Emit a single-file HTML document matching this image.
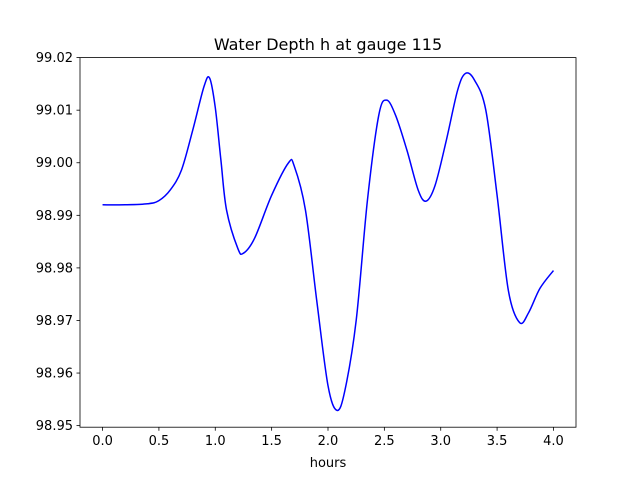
<!DOCTYPE html>
<html><head><meta charset="utf-8"><style>
body{margin:0;background:#fff;font-family:"Liberation Sans","DejaVu Sans",sans-serif}
svg text{font-family:"DejaVu Sans","Liberation Sans",sans-serif}
</style></head><body>
<svg id="chart" width="640" height="480">
<rect x="0" y="0" width="640" height="480" fill="#fff"/>
<g id="plot"></g>
</svg>
<script>
const hours=[0,0.2,0.4,0.5,0.6,0.7,0.8,0.9,0.95,1.0,1.05,1.1,1.2,1.25,1.35,1.5,1.65,1.7,1.8,1.9,2.0,2.08,2.15,2.25,2.35,2.45,2.52,2.6,2.7,2.8,2.87,2.95,3.05,3.15,3.22,3.3,3.4,3.5,3.6,3.7,3.78,3.88,4.0];
const depth=[98.992,98.992,98.9922,98.9928,98.9948,98.9986,99.0062,99.0145,99.0161,99.0105,99.0005,98.991,98.9837,98.9828,98.9857,98.9938,99.0,98.9994,98.991,98.9738,98.9576,98.9529,98.9567,98.970,98.9929,99.009,99.0119,99.009,99.0024,98.9948,98.9927,98.9957,99.0043,99.0138,99.017,99.0157,99.01,98.9938,98.9757,98.9696,98.9715,98.9761,98.9795];
const xTicks=[0,0.5,1.0,1.5,2.0,2.5,3.0,3.5,4.0];
const yTicks=[98.95,98.96,98.97,98.98,98.99,99.00,99.01,99.02];
const L=80,R=576,T=57.6,B=427.2,x0=-0.2,x1=4.2,y0=98.9497,y1=99.0200;
const sx=v=>L+(v-x0)/(x1-x0)*(R-L);
const sy=v=>B-(v-y0)/(y1-y0)*(B-T);
const NS='http://www.w3.org/2000/svg';
const g=document.getElementById('plot');
function mk(t,a,txt){const e=document.createElementNS(NS,t);for(const k in a)e.setAttribute(k,a[k]);if(txt!==undefined)e.textContent=txt;g.appendChild(e);return e;}
const P=hours.map((h,i)=>[sx(h),sy(depth[i])]);
let d='M'+P[0][0]+','+P[0][1];
for(let i=0;i<P.length-1;i++){const p0=P[Math.max(0,i-1)],p1=P[i],p2=P[i+1],p3=P[Math.min(P.length-1,i+2)];
const c1=[p1[0]+(p2[0]-p0[0])/6,p1[1]+(p2[1]-p0[1])/6],c2=[p2[0]-(p3[0]-p1[0])/6,p2[1]-(p3[1]-p1[1])/6];
d+=` C${c1[0]},${c1[1]} ${c2[0]},${c2[1]} ${p2[0]},${p2[1]}`;}
const line=mk('path',{d:d,fill:'none',stroke:'#0000ff','stroke-width':1.5});


const frame=mk('rect',{x:L,y:T,width:R-L,height:B-T,fill:'none',stroke:'#000','stroke-width':0.8});


xTicks.forEach(v=>{const x=sx(v);mk('line',{x1:x,x2:x,y1:B,y2:B+3.5,stroke:'#000','stroke-width':0.8});
const t=mk('text',{x:x,y:B+18,'text-anchor':'middle','font-size':13},v.toFixed(1));

});
yTicks.forEach(v=>{const y=sy(v);mk('line',{x1:L-3.5,x2:L,y1:y,y2:y,stroke:'#000','stroke-width':0.8});
const t=mk('text',{x:L-7,y:y+4.5,'text-anchor':'end','font-size':13},v.toFixed(2));

});
const xt=mk('text',{x:(L+R)/2,y:467,'text-anchor':'middle','font-size':13},'hours');


const tt=mk('text',{x:(L+R)/2,y:50,'text-anchor':'middle','font-size':16},'Water Depth h at gauge 115');


</script>
</body></html>
